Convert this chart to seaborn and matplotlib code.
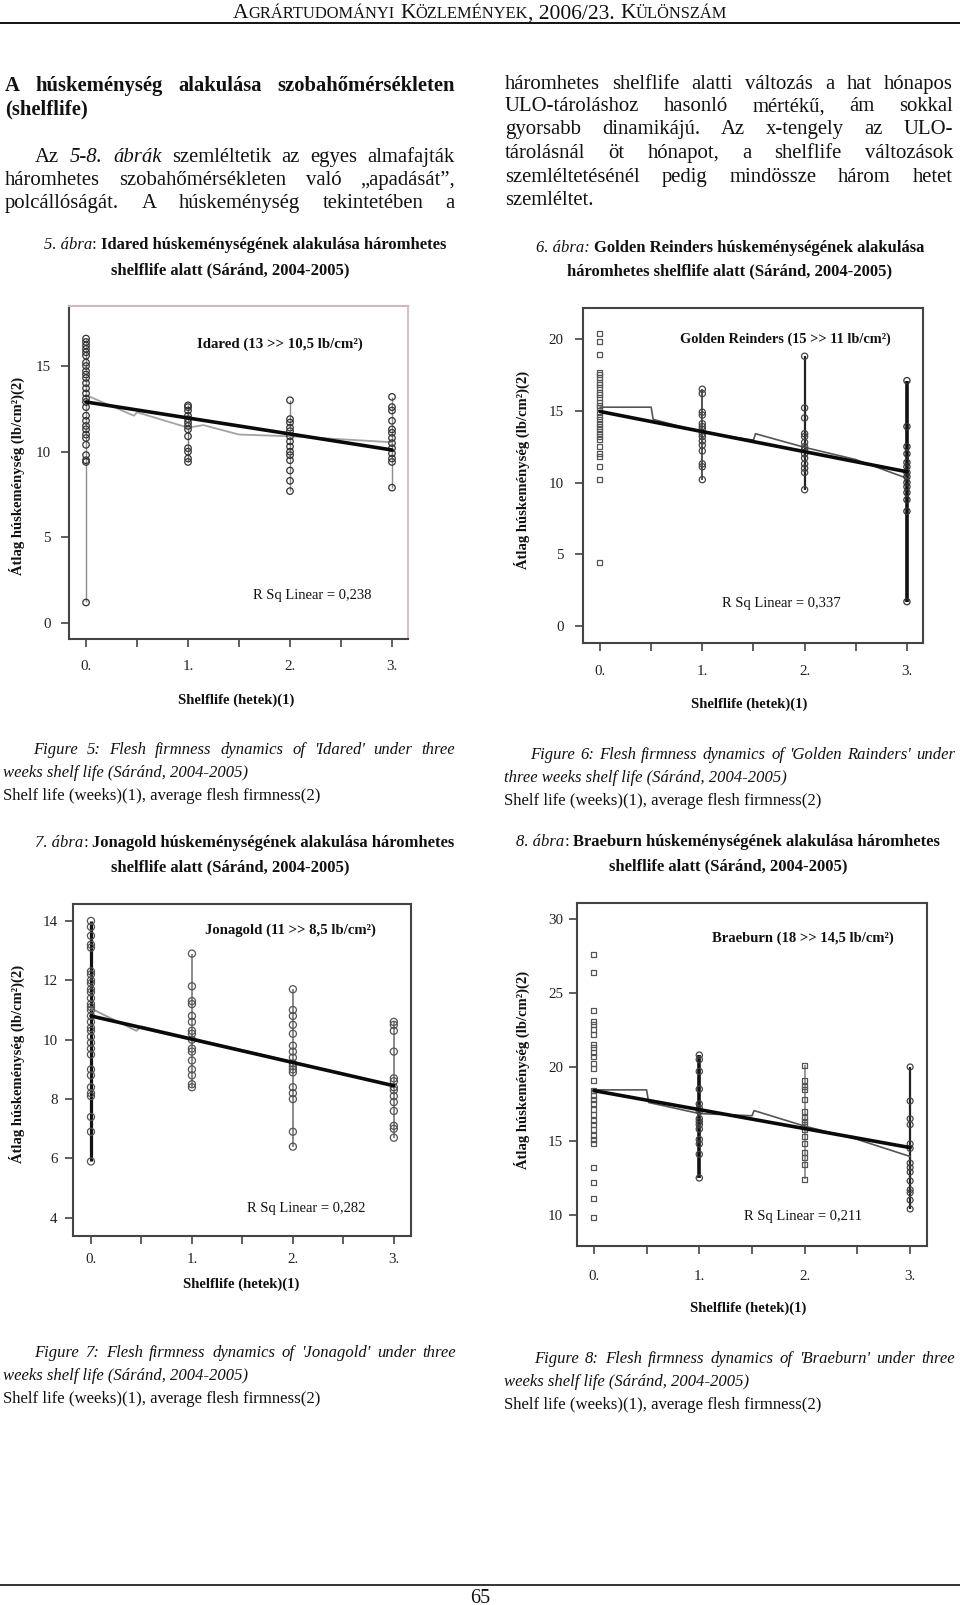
import matplotlib
matplotlib.use("Agg")
import matplotlib.pyplot as plt
import seaborn as sns

# ---------------- data ----------------
weeks = [0, 1, 2, 3]
week_labels = ["0.", "1.", "2.", "3."]
minor_weeks = [0.5, 1.5, 2.5]
fit_weeks = [0, 3]

# Idared
idared_w0 = [16.6, 16.4, 16.2, 16.0, 15.8, 15.6, 15.2, 15.0, 14.7, 14.5, 14.3, 14.0, 13.7, 13.4,
             13.1, 12.9, 12.6, 12.1, 11.8, 11.5, 11.3, 11.0, 10.8, 10.4, 9.8, 9.5, 9.4, 1.2]
idared_w1 = [12.7, 12.6, 12.4, 12.1, 11.9, 11.7, 11.5, 11.3, 10.9, 10.2, 10.0, 9.6, 9.4]
idared_w2 = [13.0, 11.9, 11.7, 11.4, 11.2, 10.9, 10.6, 10.3, 10.0, 9.8, 9.5, 8.9, 8.3, 7.7]
idared_w3 = [13.2, 12.6, 12.4, 11.8, 11.3, 11.1, 10.8, 10.5, 10.2, 9.9, 9.6, 9.4, 7.9]
idared_fit = [12.9, 10.1]
idared_curve_x = [0, 0.47, 0.5, 1.0, 1.15, 1.5, 2.0, 3.0]
idared_curve_y = [13.3, 12.1, 12.3, 11.4, 11.55, 11.0, 10.9, 10.55]

# Golden Reinders
golden_w0 = [20.4, 19.8, 18.9, 17.7, 17.5, 17.3, 17.0, 16.8, 16.6, 16.3, 16.1, 15.9, 15.6, 15.4, 15.2,
             14.9, 14.6, 14.4, 14.1, 13.9, 13.7, 13.4, 13.2, 13.0, 12.5, 12.0, 11.8, 11.1, 10.2, 4.4]
golden_w1 = [16.5, 16.2, 14.9, 14.7, 14.1, 13.9, 13.7, 13.4, 13.2, 12.9, 12.6, 12.2, 11.3, 11.1, 10.2]
golden_w2 = [18.8, 15.2, 14.5, 13.4, 13.2, 12.8, 12.5, 12.3, 12.0, 11.7, 11.3, 11.0, 10.7, 9.5]
golden_w3 = [17.1, 13.9, 12.5, 12.0, 11.4, 11.1, 10.7, 10.4, 10.0, 9.7, 9.3, 8.8, 8.0, 1.7]
golden_fit = [14.95, 10.75]
golden_curve_x = [0, 0.5, 0.52, 1.0, 1.5, 1.52, 2.0, 2.5, 3.0]
golden_curve_y = [15.25, 15.25, 14.4, 13.5, 12.95, 13.4, 12.45, 11.6, 10.3]

# Jonagold
jonagold_w0 = [14.0, 13.8, 13.5, 13.2, 13.1, 12.3, 12.2, 12.0, 11.9, 11.7, 11.6, 11.4, 11.2, 11.1, 11.0,
               10.8, 10.6, 10.4, 10.3, 10.1, 9.9, 9.7, 9.5, 9.0, 8.8, 8.4, 8.2, 8.1, 7.4, 6.9, 5.9]
jonagold_w1 = [12.9, 11.8, 11.3, 11.2, 10.8, 10.6, 10.3, 10.2, 10.0, 9.7, 9.6, 9.3, 9.0, 8.8, 8.5, 8.4]
jonagold_w2 = [11.7, 11.0, 10.8, 10.5, 10.2, 9.8, 9.6, 9.4, 9.2, 9.1, 9.0, 8.9, 8.4, 8.2, 8.0, 6.9, 6.4]
jonagold_w3 = [10.6, 10.5, 10.3, 9.6, 8.7, 8.6, 8.4, 8.3, 8.1, 7.9, 7.6, 7.1, 7.0, 6.7]
jonagold_fit = [10.8, 8.45]
jonagold_curve_x = [0, 0.45, 0.5, 1.0, 2.0, 3.0]
jonagold_curve_y = [11.05, 10.3, 10.45, 10.05, 9.25, 8.45]

# Braeburn
braeburn_w0 = [27.6, 26.4, 23.8, 23.1, 22.9, 22.5, 22.2, 21.5, 21.3, 21.0, 20.7, 20.2, 19.9, 19.1, 18.4,
               18.1, 17.8, 17.5, 17.1, 16.8, 16.4, 16.1, 15.8, 15.4, 15.1, 14.8, 13.2, 12.2, 11.1, 9.8]
braeburn_w1 = [20.8, 20.5, 19.7, 18.5, 17.5, 17.2, 17.0, 16.5, 16.3, 16.1, 15.8, 15.1, 14.8, 14.1, 12.5]
braeburn_w2 = [20.1, 19.1, 18.7, 18.5, 17.8, 17.0, 16.6, 16.3, 16.1, 15.8, 15.3, 14.8, 14.2, 13.9, 13.4, 12.4]
braeburn_w3 = [20.0, 17.7, 16.5, 16.1, 14.8, 14.5, 13.5, 13.2, 12.9, 12.3, 11.7, 11.5, 11.0, 10.4]
braeburn_fit = [18.4, 14.55]
braeburn_curve_x = [0, 0.5, 0.52, 1.0, 1.5, 1.52, 2.0, 2.5, 3.0]
braeburn_curve_y = [18.45, 18.45, 17.6, 16.85, 16.7, 17.05, 16.0, 15.1, 13.95]

titles = ["Idared (13 >> 10,5 lb/cm²)", "Golden Reinders (15 >> 11 lb/cm²)",
          "Jonagold (11 >> 8,5 lb/cm²)", "Braeburn (18 >> 14,5 lb/cm²)"]
rsq_texts = ["R Sq Linear = 0,238", "R Sq Linear = 0,337", "R Sq Linear = 0,282", "R Sq Linear = 0,211"]
x_label = "Shelflife (hetek)(1)"
y_label = "Átlag húskeménység (lb/cm²)(2)"

# ---------------- setup ----------------
sns.set_theme(style="ticks")
plt.rcParams['font.family'] = ['Liberation Serif', 'DejaVu Serif']
plt.rcParams['axes.unicode_minus'] = False

W, H = 960, 1605
fig = plt.figure(figsize=(W / 100, H / 100), dpi=100)
fig.patch.set_facecolor('white')
renderer = fig.canvas.get_renderer()

STY = {'n': dict(style='normal', weight='normal'),
       'i': dict(style='italic', weight='normal'),
       'b': dict(style='normal', weight='bold')}
PX = 100 / 72.0


def fx(x):
    return x / W


def fy(y):
    return 1 - y / H


def measure(s, size, sty, rot=0):
    t = fig.text(0, 0, s, fontsize=size, rotation=rot, **STY[sty])
    bb = t.get_window_extent(renderer)
    t.remove()
    return bb.height if rot else bb.width


def space_w(size, sty):
    return measure("a a", size, sty) - measure("aa", size, sty)


def fit_size(s, sty, target, rot=0):
    return 10 * target / measure(s, 10, sty, rot)


def put(x, y, s, size, sty, ha='left', ref_size=None, color='#111'):
    ref = ref_size if ref_size else size
    return fig.text(fx(x), fy(y + 0.3 * ref * PX), s, fontsize=size, ha=ha,
                    va='baseline', color=color, **STY[sty])


def justify(words, x0, x1, y, size):
    ws = [measure(t, size, s) for t, s in words]
    gap = (x1 - x0 - sum(ws)) / (len(words) - 1)
    x = x0
    for (t, s), w in zip(words, ws):
        put(x, y, t, size, s)
        x += w + gap


def run(pieces, x, y, ha='left'):
    ws = [space_w(sz, s) if t == ' ' else measure(t, sz, s) for t, s, sz in pieces]
    total = sum(ws)
    x0 = x - total / 2 if ha == 'center' else x
    ref = max(p[2] for p in pieces)
    for (t, s, sz), w in zip(pieces, ws):
        if t != ' ':
            put(x0, y, t, sz, s, ref_size=ref)
        x0 += w


def wl(s, sty='n'):
    return [(w, sty) for w in s.split()]


def hline(y, lw=1.4):
    fig.add_artist(plt.Line2D([0, 1], [fy(y), fy(y)], color='#111', lw=lw))


# ---------------- sizes ----------------
body_size = fit_size("szemléltet.", 'n', 89)
head_size = fit_size("(shelflife)", 'b', 83)
cap_size = fit_size("shelflife alatt (Sáránd, 2004-2005)", 'b', 240)
figcap_size = fit_size("weeks shelf life (Sáránd, 2004-2005)", 'i', 245)
figcap3_size = fit_size("Shelf life (weeks)(1), average flesh firmness(2)", 'n', 318)
tick_size = fit_size("15", 'n', 15)
xlab_size = fit_size(x_label, 'b', 118)
ylab_size = fit_size(y_label, 'b', 198)
rsq_size = fit_size(rsq_texts[0], 'n', 119)

# ---------------- header ----------------
big, small = 13.0, 10.0
hdr = [("A", 'n', big), ("GRÁRTUDOMÁNYI", 'n', small), (' ', 'n', big), ("K", 'n', big),
       ("ÖZLEMÉNYEK", 'n', small), (", 2006/23.", 'n', big), (' ', 'n', big), ("K", 'n', big),
       ("ÜLÖNSZÁM", 'n', small)]
tot = sum(space_w(sz, s) if t == ' ' else measure(t, sz, s) for t, s, sz in hdr)
k = 495 / tot
hdr = [(t, s, sz * k) for t, s, sz in hdr]
run(hdr, 480, 12, ha='center')
hline(23)

# ---------------- left column text ----------------
justify(wl("A húskeménység alakulása szobahőmérsékleten", 'b'), 5, 455, 85, head_size)
put(5, 108, "(shelflife)", head_size, 'b')
justify([("Az", 'n'), ("5-8.", 'i'), ("ábrák", 'i')] + wl("szemléltetik az egyes almafajták"),
        35, 455, 156, body_size)
justify(wl("háromhetes szobahőmérsékleten való „apadását”,"), 5, 455, 179, body_size)
justify(wl("polcállóságát. A húskeménység tekintetében a"), 5, 455, 202, body_size)

# ---------------- right column text ----------------
right_lines = ["háromhetes shelflife alatti változás a hat hónapos",
               "ULO-tároláshoz hasonló mértékű, ám sokkal",
               "gyorsabb dinamikájú. Az x-tengely az ULO-",
               "tárolásnál öt hónapot, a shelflife változások",
               "szemléltetésénél pedig mindössze három hetet"]
for ln, yy in zip(right_lines, [83, 105, 128, 152, 176]):
    justify(wl(ln), 505, 953, yy, body_size)
put(505, 199, "szemléltet.", body_size, 'n')

# ---------------- figure captions (above) ----------------
def abra(num, name, rest1, cx1, y1, line2, cx2, y2, colon_italic=False):
    if colon_italic:
        p = [(f"{num}. ábra:", 'i', cap_size)]
    else:
        p = [(f"{num}. ábra", 'i', cap_size), (":", 'n', cap_size)]
    p += [(' ', 'b', cap_size), (f"{name} {rest1}", 'b', cap_size)]
    run(p, cx1, y1, ha='center')
    run([(line2, 'b', cap_size)], cx2, y2, ha='center')


abra(5, "Idared", "húskeménységének alakulása háromhetes", 245, 244,
     "shelflife alatt (Sáránd, 2004-2005)", 230, 269)
abra(6, "Golden Reinders", "húskeménységének alakulása", 730, 247,
     "háromhetes shelflife alatt (Sáránd, 2004-2005)", 730, 270, colon_italic=True)
abra(7, "Jonagold", "húskeménységének alakulása háromhetes", 245, 842,
     "shelflife alatt (Sáránd, 2004-2005)", 230, 866)
abra(8, "Braeburn", "húskeménységének alakulása háromhetes", 728, 841,
     "shelflife alatt (Sáránd, 2004-2005)", 728, 865)

# ---------------- figure captions (below, English) ----------------
def figcap(num, name, first, x0, x1, y1, xl, second):
    justify(wl(f"Figure {num}: Flesh firmness dynamics of '{name}' {first}", 'i'), x0, x1, y1, figcap_size)
    put(xl, y1 + 23, second, figcap_size, 'i')
    put(xl, y1 + 46, "Shelf life (weeks)(1), average flesh firmness(2)", figcap3_size, 'n')


figcap(5, "Idared", "under three", 33, 455, 749, 3, "weeks shelf life (Sáránd, 2004-2005)")
figcap(6, "Golden Rainders", "under", 530, 955, 754, 504, "three weeks shelf life (Sáránd, 2004-2005)")
figcap(7, "Jonagold", "under three", 34, 456, 1352, 3, "weeks shelf life (Sáránd, 2004-2005)")
figcap(8, "Braeburn", "under three", 534, 955, 1358, 504, "weeks shelf life (Sáránd, 2004-2005)")

# ---------------- footer ----------------
hline(1585, lw=1.2)
put(480, 1597, "65", 14.5, 'n', ha='center')

# ---------------- charts ----------------
charts = [
    dict(groups=[idared_w0, idared_w1, idared_w2, idared_w3], fit=idared_fit,
         cx=idared_curve_x, cy=idared_curve_y, rect=(69, 306, 408, 639),
         xlim=(-0.167, 3.157), ylim=(-0.93, 18.5), yticks=[0, 5, 10, 15],
         title=titles[0], tw=166, tpos=(280, 343), rsq=rsq_texts[0], rpos=(312, 595),
         xlpos=(236, 699), ylpos=(17, 476), xpad=9.0, ypad=7.0,
         vl=[('#8c8c8c', 1.0), ('#777777', 1.0), ('#8c8c8c', 1.0), ('#8c8c8c', 1.0)],
         mk=[('o', 22, '#333333')] * 4, curve=('#a3a3a3', 1.3),
         spines={'top': '#d4b6be', 'right': '#cfc4c8'}),
    dict(groups=[golden_w0, golden_w1, golden_w2, golden_w3], fit=golden_fit,
         cx=golden_curve_x, cy=golden_curve_y, rect=(583, 308, 923, 643),
         xlim=(-0.166, 3.157), ylim=(-1.18, 22.16), yticks=[0, 5, 10, 15, 20],
         title=titles[1], tw=211, tpos=(785, 339), rsq=rsq_texts[1], rpos=(781, 603),
         xlpos=(749, 703), ylpos=(522, 470), xpad=9.7, ypad=8.0,
         vl=[(None, 0), ('#444444', 1.3), ('#222222', 1.6), ('#111111', 2.6)],
         mk=[('s', 13, '#555555'), ('o', 20, '#444444'), ('o', 20, '#444444'), ('o', 20, '#333333')],
         curve=('#555555', 1.2), spines={}),
    dict(groups=[jonagold_w0, jonagold_w1, jonagold_w2, jonagold_w3], fit=jonagold_fit,
         cx=jonagold_curve_x, cy=jonagold_curve_y, rect=(73, 904, 411, 1236),
         xlim=(-0.178, 3.17), ylim=(3.39, 14.57), yticks=[4, 6, 8, 10, 12, 14],
         title=titles[2], tw=171, tpos=(290, 929), rsq=rsq_texts[2], rpos=(306, 1208),
         xlpos=(241, 1283), ylpos=(17, 1064), xpad=6.0, ypad=5.0,
         vl=[('#111111', 2.3), ('#777777', 1.2), ('#777777', 1.2), ('#777777', 1.2)],
         mk=[('o', 26, '#555555')] * 4, curve=('#999999', 1.3), spines={}),
    dict(groups=[braeburn_w0, braeburn_w1, braeburn_w2, braeburn_w3], fit=braeburn_fit,
         cx=braeburn_curve_x, cy=braeburn_curve_y, rect=(577, 903, 927, 1246),
         xlim=(-0.16, 3.16), ylim=(7.9, 31.08), yticks=[10, 15, 20, 25, 30],
         title=titles[3], tw=182, tpos=(803, 937), rsq=rsq_texts[3], rpos=(803, 1216),
         xlpos=(748, 1307), ylpos=(522, 1070), xpad=11.0, ypad=4.0,
         vl=[(None, 0), ('#111111', 2.6), ('#888888', 1.2), ('#222222', 1.6)],
         mk=[('s', 13, '#555555'), ('o', 20, '#444444'), ('s', 13, '#555555'), ('o', 18, '#444444')],
         curve=('#555555', 1.2), spines={}),
]

for c in charts:
    l, t, r, b = c['rect']
    ax = fig.add_axes([l / W, 1 - b / H, (r - l) / W, (b - t) / H])
    ax.set_facecolor('white')
    for w, vals, (lc, lw) in zip(weeks, c['groups'], c['vl']):
        if lc:
            ax.vlines(w, min(vals), max(vals), color=lc, lw=lw, zorder=1)
    sns.lineplot(x=c['cx'], y=c['cy'], ax=ax, color=c['curve'][0], lw=c['curve'][1],
                 estimator=None, sort=False, zorder=2)
    for w, vals, (m, s, ec) in zip(weeks, c['groups'], c['mk']):
        sns.scatterplot(x=[w] * len(vals), y=vals, ax=ax, marker=m, s=s, color=ec,
                        facecolor='none', edgecolor=ec, linewidth=0.9, zorder=3)
    sns.lineplot(x=fit_weeks, y=c['fit'], ax=ax, color='#0a0a0a', lw=2.6,
                 estimator=None, sort=False, zorder=4)
    ax.set_xlim(*c['xlim'])
    ax.set_ylim(*c['ylim'])
    ax.set_xticks(weeks, week_labels)
    ax.set_xticks(minor_weeks, minor=True)
    ax.set_yticks(c['yticks'])
    ax.tick_params(axis='both', which='both', direction='out', length=6, width=1.2,
                   color='#444444', labelsize=tick_size, labelcolor='#222222')
    ax.tick_params(axis='x', which='both', pad=c['xpad'], top=False, bottom=True)
    ax.tick_params(axis='y', pad=c['ypad'], left=True, right=False)
    ax.set_xlabel('')
    ax.set_ylabel('')
    ax.grid(False)
    for name, sp in ax.spines.items():
        sp.set_visible(True)
        sp.set_color(c['spines'].get(name, '#444444'))
        sp.set_linewidth(1.5)
    tsize = fit_size(c['title'], 'b', c['tw'])
    put(c['tpos'][0], c['tpos'][1], c['title'], tsize, 'b', ha='center')
    put(c['rpos'][0], c['rpos'][1], c['rsq'], rsq_size, 'n', ha='center')
    put(c['xlpos'][0], c['xlpos'][1], x_label, xlab_size, 'b', ha='center')
    fig.text(fx(c['ylpos'][0]), fy(c['ylpos'][1]), y_label, rotation=90, ha='center',
             va='center', fontsize=ylab_size, color='#111', **STY['b'])

fig.savefig("out.png", dpi=100, facecolor='white')
